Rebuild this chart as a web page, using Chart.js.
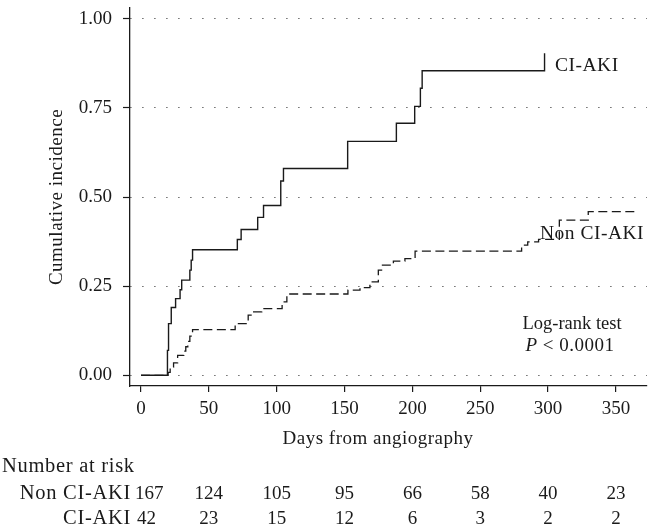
<!DOCTYPE html>
<html>
<head>
<meta charset="utf-8">
<script src="https://cdn.jsdelivr.net/npm/chart.js@4.4.1/dist/chart.umd.min.js"></script>
<style>
  html, body { margin: 0; padding: 0; background: #fff; }
  #wrap { width: 659px; height: 531px; }
</style>
</head>
<body>
<div id="wrap"><canvas id="c" width="659" height="531"></canvas></div>
<script>
// ---- data ----
const ciDays = [0, 19.5, 20.3, 22.3, 25.5, 28.8, 30, 36, 37, 38, 71, 73.8, 86, 90.3, 103, 105, 152.3, 188.2, 201.7, 205.9, 207.2, 297.4, 297.4];
const ciInc  = [0, 0.070, 0.145, 0.190, 0.215, 0.240, 0.267, 0.295, 0.323, 0.352, 0.381, 0.409, 0.443, 0.476, 0.545, 0.580, 0.656, 0.707, 0.754, 0.805, 0.854, 0.854, 0.903];

const nonDays = [0, 20, 21.5, 24, 27, 31.5, 33, 34.5, 36, 38, 69.4, 79, 82, 89, 104, 107.5, 152.5, 161.4, 168.7, 174.9, 177.3, 186, 194.5, 202, 280.5, 285, 293, 308.3, 329.6, 364.8];
const nonInc  = [0, 0.008, 0.023, 0.035, 0.056, 0.068, 0.080, 0.095, 0.110, 0.128, 0.145, 0.169, 0.178, 0.187, 0.206, 0.228, 0.239, 0.246, 0.262, 0.295, 0.309, 0.320, 0.327, 0.348, 0.365, 0.374, 0.381, 0.435, 0.459, 0.459];

const xTickValues = [0, 50, 100, 150, 200, 250, 300, 350];
const yTickValues = [0, 0.25, 0.5, 0.75, 1.0];

const riskTimes = [0, 50, 100, 150, 200, 250, 300, 350];
const riskNon   = [167, 124, 105, 95, 66, 58, 40, 23];
const riskCI    = [42, 23, 15, 12, 6, 3, 2, 2];

const seriesNames = ['CI-AKI', 'Non CI-AKI'];

// ---- chart ----
const FONT = "'Liberation Serif', 'Times New Roman', serif";
const INK = '#1a1a1a';

function pts(xs, ys) { return xs.map((x, i) => ({ x: x, y: ys[i] })); }

const textPlugin = {
  id: 'texts',
  afterDraw(chart) {
    const ctx = chart.ctx;
    const xs = chart.scales.x;
    ctx.save();
    ctx.fillStyle = INK;
    ctx.font = '19px ' + FONT;
    ctx.letterSpacing = '0.5px';
    ctx.textBaseline = 'middle';

    // axis titles
    ctx.textAlign = 'center';
    ctx.fillText('Days from angiography', 378, 439);
    ctx.save();
    ctx.translate(57, 197);
    ctx.rotate(-Math.PI / 2);
    ctx.fillText('Cumulative incidence', 0, 0);
    ctx.restore();

    // curve labels
    ctx.textAlign = 'left';
    ctx.font = '19.5px ' + FONT;
    ctx.fillText(seriesNames[0], 555, 66);
    ctx.fillText(seriesNames[1], 540, 234);

    // log-rank annotation
    ctx.font = '18.5px ' + FONT;
    ctx.letterSpacing = '0px';
    ctx.textAlign = 'center';
    ctx.fillText('Log-rank test', 572, 324);
    ctx.letterSpacing = '0.5px';
    ctx.font = 'italic 19px ' + FONT;
    ctx.textAlign = 'left';
    const pw = ctx.measureText('P').width;
    const rest = ' < 0.0001';
    ctx.font = '19px ' + FONT;
    const rw = ctx.measureText(rest).width;
    const startX = 570 - (pw + rw) / 2;
    ctx.font = 'italic 19px ' + FONT;
    ctx.fillText('P', startX, 346);
    ctx.font = '19px ' + FONT;
    ctx.fillText(rest, startX + pw, 346);

    // number at risk table
    ctx.font = '20.5px ' + FONT;
    ctx.letterSpacing = '0.7px';
    ctx.textAlign = 'left';
    ctx.fillText('Number at risk', 2, 467);
    ctx.textAlign = 'right';
    ctx.fillText(seriesNames[1], 131, 494);
    ctx.fillText(seriesNames[0], 131, 519);
    ctx.font = '19px ' + FONT;
    ctx.letterSpacing = '0px';
    for (let i = 0; i < riskTimes.length; i++) {
      const px = xs.getPixelForValue(riskTimes[i]);
      if (i === 0) {
        ctx.textAlign = 'left';
        ctx.fillText(String(riskNon[i]), 135, 494);
        ctx.fillText(String(riskCI[i]), 137, 519);
      } else {
        ctx.textAlign = 'center';
        ctx.fillText(String(riskNon[i]), px, 494);
        ctx.fillText(String(riskCI[i]), px, 519);
      }
    }
    ctx.restore();
  }
};

new Chart(document.getElementById('c'), {
  type: 'line',
  data: {
    datasets: [
      {
        label: seriesNames[0],
        data: pts(ciDays, ciInc),
        stepped: true,
        borderColor: INK,
        borderWidth: 1.4,
        pointRadius: 0,
        fill: false
      },
      {
        label: seriesNames[1],
        data: pts(nonDays, nonInc),
        stepped: true,
        borderColor: INK,
        borderWidth: 1.3,
        borderDash: [9, 4.5],
        pointRadius: 0,
        fill: false
      }
    ]
  },
  options: {
    responsive: false,
    animation: false,
    devicePixelRatio: 1,
    layout: { padding: { left: 0, right: 12, top: 8, bottom: 0 } },
    plugins: {
      legend: { display: false },
      tooltip: { enabled: false },
      title: { display: false }
    },
    scales: {
      x: {
        type: 'linear',
        min: -8.1,
        max: 372.9,
        afterBuildTicks(s) { s.ticks = xTickValues.map(v => ({ value: v })); },
        afterFit(s) { s.height = 145; s.paddingLeft = 0; s.paddingRight = 0; },
        ticks: {
          color: INK,
          padding: 6,
          maxRotation: 0,
          autoSkip: false,
          font: { family: FONT, size: 19 },
          callback: v => String(v)
        },
        grid: { drawOnChartArea: false, drawTicks: true, tickLength: 6, color: INK, lineWidth: 1.2 },
        border: { display: true, color: INK, width: 1.3 }
      },
      y: {
        type: 'linear',
        min: -0.030,
        max: 1.030,
        afterBuildTicks(s) { s.ticks = yTickValues.map(v => ({ value: v })); },
        afterFit(s) { s.width = 130; s.paddingTop = 0; s.paddingBottom = 0; },
        ticks: {
          color: INK,
          padding: 11,
          autoSkip: false,
          font: { family: FONT, size: 19 },
          callback: v => Number(v).toFixed(2)
        },
        grid: {
          drawOnChartArea: true,
          drawTicks: true,
          tickLength: 7,
          color: '#444',
          tickColor: INK,
          lineWidth: 1,
          tickWidth: 1.2
        },
        border: { display: true, color: INK, width: 1.3, dash: [1.2, 10.8] }
      }
    }
  },
  plugins: [textPlugin]
});
</script>
</body>
</html>
